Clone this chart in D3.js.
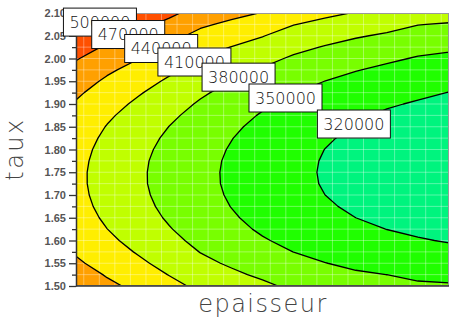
<!DOCTYPE html>
<html>
<head>
<meta charset="utf-8">
<script src="https://cdn.jsdelivr.net/npm/d3@7/dist/d3.min.js"></script>
<style>
  body { margin: 0; background: #fff; }
  svg { display: block; }
</style>
</head>
<body>
<svg id="chart" width="451" height="324"></svg>
<script>
// Grid columns (epaisseur, arbitrary units) and rows (taux, top to bottom)
const epaisseur = [0, 1, 2, 3, 4, 5, 6, 7, 8, 9, 10, 11, 12];
const taux = [2.100, 2.075, 2.050, 2.025, 2.000, 1.975, 1.950, 1.925, 1.900, 1.875, 1.850, 1.825, 1.800,
              1.775, 1.750, 1.725, 1.700, 1.675, 1.650, 1.625, 1.600, 1.575, 1.550, 1.525, 1.500];

// Response surface, one row per taux value, one column per epaisseur value
const reponse = [
  [522700, 506600, 493200, 476500, 458100, 448200, 438700, 424400, 416200, 408400, 402900, 393600, 391400],
  [508500, 492200, 478500, 462200, 444500, 434300, 424400, 410900, 402600, 395000, 389200, 380700, 378100],
  [495400, 478700, 464800, 448800, 432000, 421300, 411100, 398400, 390100, 382500, 376600, 368800, 365800],
  [483200, 466400, 452200, 436600, 420400, 409400, 398900, 386900, 378500, 371100, 364900, 357900, 354500],
  [472000, 455000, 440700, 425300, 409700, 398500, 387800, 376400, 368000, 360600, 354300, 348000, 344300],
  [461900, 444700, 430300, 415100, 400100, 388600, 377700, 366900, 358400, 351200, 344700, 339000, 335000],
  [452800, 435500, 420900, 405900, 391500, 379800, 368600, 358400, 349900, 342700, 336200, 331000, 326800],
  [444600, 427300, 412500, 397800, 383800, 371900, 360600, 350900, 342400, 335300, 328700, 324000, 319600],
  [437500, 420100, 405300, 390700, 377100, 365100, 353700, 344300, 335900, 328900, 322300, 318000, 313400],
  [431400, 414000, 399100, 384700, 371400, 359300, 347800, 338800, 330400, 323500, 316900, 312900, 308300],
  [426300, 408900, 393900, 379700, 366700, 354500, 342900, 334300, 325900, 319100, 312500, 308800, 304100],
  [422300, 404900, 389900, 375700, 362900, 350700, 339100, 330700, 322400, 315700, 309100, 305700, 301000],
  [419200, 401900, 386900, 372800, 360100, 348000, 336400, 328100, 319900, 313300, 306800, 303600, 298900],
  [417200, 400000, 384900, 370900, 358400, 346200, 334700, 326600, 318500, 311900, 305600, 302400, 297800],
  [416100, 399100, 384100, 370100, 357600, 345500, 334000, 326000, 318000, 311500, 305300, 302300, 297700],
  [416100, 399200, 384200, 370200, 357700, 345800, 334400, 326400, 318500, 312100, 306100, 303100, 298600],
  [417100, 400400, 385500, 371500, 358900, 347200, 335900, 327800, 320100, 313800, 308000, 304800, 300600],
  [419100, 402600, 387800, 373700, 361000, 349500, 338400, 330200, 322700, 316400, 310900, 307600, 303500],
  [422100, 405900, 391200, 377000, 364100, 352900, 341900, 333600, 326200, 320000, 314800, 311300, 307500],
  [426200, 410200, 395700, 381400, 368200, 357200, 346500, 338000, 330800, 324700, 319800, 316000, 312400],
  [431200, 415600, 401200, 386800, 373300, 362600, 352200, 343400, 336400, 330300, 325800, 321700, 318500],
  [437300, 422000, 407800, 393200, 379400, 369100, 358800, 349800, 343000, 337000, 332800, 328400, 325500],
  [444300, 429500, 415400, 400600, 386400, 376500, 366600, 357100, 350600, 344700, 340900, 336000, 333600],
  [452400, 438000, 424100, 409100, 394500, 384900, 375400, 365500, 359200, 353300, 349900, 344600, 342600],
  [461500, 445500, 433900, 418700, 403500, 394400, 385200, 374800, 368800, 363000, 360100, 354200, 352700]
];

const niveaux = [320000, 350000, 380000, 410000, 440000, 470000, 500000];
const couleurs = ["#00f47e", "#20ff00", "#78ff00", "#c0ff00", "#ffee00", "#ffa000", "#ff5000", "#ff2000"];

const tauxTicks = [1.50, 1.55, 1.60, 1.65, 1.70, 1.75, 1.80, 1.85, 1.90, 1.95, 2.00, 2.05, 2.10];
const tauxMinor = [1.525, 1.575, 1.625, 1.675, 1.725, 1.775, 1.825, 1.875, 1.925, 1.975, 2.025, 2.075];

// Contour labels, drawn in this order (later ones overlap earlier ones)
const labelValeurs = [500000, 470000, 440000, 410000, 380000, 350000, 320000];
const labelEpaisseur = [0.77, 1.68, 2.74, 3.81, 5.23, 6.74, 8.94];
const labelTaux = [2.080, 2.0527, 2.022, 1.9923, 1.959, 1.9132, 1.856];

const W = 451, H = 324;
const M = { left: 76, right: 2, top: 13, bottom: 38 };
const svg = d3.select("#chart");

const x = d3.scaleLinear()
  .domain([epaisseur[0], epaisseur[epaisseur.length - 1]])
  .range([M.left, W - M.right]);
const y = d3.scaleLinear()
  .domain([1.50, 2.10])
  .range([H - M.bottom, M.top]);

const nx = epaisseur.length, ny = taux.length;
const col = d3.scaleLinear().domain([0, nx - 1]).range([epaisseur[0], epaisseur[nx - 1]]);
const row = d3.scaleLinear().domain([0, ny - 1]).range([taux[0], taux[ny - 1]]);

// d3.contours puts sample (i, j) at (i + 0.5, j + 0.5)
const toScreen = d3.geoTransform({
  point(gx, gy) { this.stream.point(x(col(gx - 0.5)), y(row(gy - 0.5))); }
});
const path = d3.geoPath(toScreen);

const bands = d3.contours()
  .size([nx, ny])
  .thresholds(niveaux)(reponse.flat());

svg.append("clipPath").attr("id", "plot-clip")
  .append("rect")
  .attr("x", x.range()[0]).attr("y", y.range()[1])
  .attr("width", x.range()[1] - x.range()[0])
  .attr("height", y.range()[0] - y.range()[1]);

const plot = svg.append("g").attr("clip-path", "url(#plot-clip)");

// lowest band fills the whole area, higher bands are stacked above it
plot.append("rect")
  .attr("x", x.range()[0]).attr("y", y.range()[1])
  .attr("width", x.range()[1] - x.range()[0])
  .attr("height", y.range()[0] - y.range()[1])
  .attr("fill", couleurs[0]);

plot.selectAll("path.band")
  .data(bands)
  .join("path")
  .attr("class", "band")
  .attr("d", path)
  .attr("fill", (d, i) => couleurs[i + 1]);

// light grid over the filled surface
const gridX = d3.range(epaisseur[0] + 0.25, epaisseur[nx - 1], 0.5);
plot.selectAll("line.gx")
  .data(gridX)
  .join("line")
  .attr("class", "gx")
  .attr("x1", d => x(d)).attr("x2", d => x(d))
  .attr("y1", y.range()[1]).attr("y2", y.range()[0])
  .attr("stroke", "#fff").attr("stroke-opacity", 0.35).attr("stroke-width", 1);

plot.selectAll("line.gy")
  .data(tauxMinor.concat(tauxTicks.slice(1, -1)))
  .join("line")
  .attr("class", "gy")
  .attr("x1", x.range()[0]).attr("x2", x.range()[1])
  .attr("y1", d => y(d)).attr("y2", d => y(d))
  .attr("stroke", "#fff").attr("stroke-opacity", 0.35).attr("stroke-width", 1);

// contour lines
plot.selectAll("path.iso")
  .data(bands)
  .join("path")
  .attr("class", "iso")
  .attr("d", path)
  .attr("fill", "none")
  .attr("stroke", "#000")
  .attr("stroke-width", 1.3)
  .attr("stroke-linejoin", "round");

// frame
svg.append("rect")
  .attr("x", x.range()[0] + 0.5).attr("y", y.range()[1] + 0.5)
  .attr("width", x.range()[1] - x.range()[0] - 1)
  .attr("height", y.range()[0] - y.range()[1] - 1)
  .attr("fill", "none").attr("stroke", "#999").attr("stroke-width", 1);

// y axis
const yAxis = svg.append("g")
  .attr("transform", `translate(${M.left},0)`)
  .call(d3.axisLeft(y).tickValues(tauxTicks).tickFormat(d3.format(".2f")).tickSize(7).tickSizeOuter(0).tickPadding(3));
yAxis.select(".domain").attr("stroke", "#333").attr("stroke-width", 1.5);
yAxis.selectAll(".tick line").attr("stroke", "#333").attr("stroke-width", 1.3);
yAxis.selectAll(".tick text")
  .attr("font-family", "Liberation Sans, Arial, sans-serif")
  .attr("font-size", 11).attr("font-weight", "bold").attr("fill", "#555");

const yMinor = svg.append("g")
  .attr("transform", `translate(${M.left},0)`)
  .call(d3.axisLeft(y).tickValues(tauxMinor).tickFormat("").tickSize(4));
yMinor.select(".domain").remove();
yMinor.selectAll(".tick line").attr("stroke", "#333").attr("stroke-width", 1.3);

// x axis line
svg.append("line")
  .attr("x1", x.range()[0]).attr("x2", x.range()[1])
  .attr("y1", y.range()[0]).attr("y2", y.range()[0])
  .attr("stroke", "#333").attr("stroke-width", 1.5);

// axis titles
svg.append("text")
  .attr("x", 263).attr("y", 312)
  .attr("text-anchor", "middle")
  .attr("font-family", "DejaVu Sans, sans-serif")
  .attr("font-size", 24).attr("font-weight", 200)
  .attr("letter-spacing", 1.5)
  .attr("fill", "#444")
  .text("epaisseur");

svg.append("text")
  .attr("transform", "translate(23,149) rotate(-90)")
  .attr("text-anchor", "middle")
  .attr("font-family", "DejaVu Sans, sans-serif")
  .attr("font-size", 24).attr("font-weight", 200)
  .attr("letter-spacing", 2.5)
  .attr("fill", "#444")
  .text("taux");

// contour value labels
const labels = svg.append("g")
  .selectAll("g")
  .data(labelValeurs.map((v, i) => ({ v, e: labelEpaisseur[i], t: labelTaux[i] })))
  .join("g")
  .attr("transform", d => `translate(${x(d.e)},${y(d.t)})`);

labels.append("rect")
  .attr("x", -36.5).attr("y", -14).attr("width", 73).attr("height", 28)
  .attr("fill", "#fff").attr("stroke", "#111").attr("stroke-width", 1);

labels.append("text")
  .attr("text-anchor", "middle").attr("dy", "0.36em")
  .attr("font-family", "DejaVu Sans, sans-serif")
  .attr("font-size", 16).attr("font-weight", 200)
  .attr("fill", "#111")
  .text(d => d.v);
</script>
</body>
</html>
